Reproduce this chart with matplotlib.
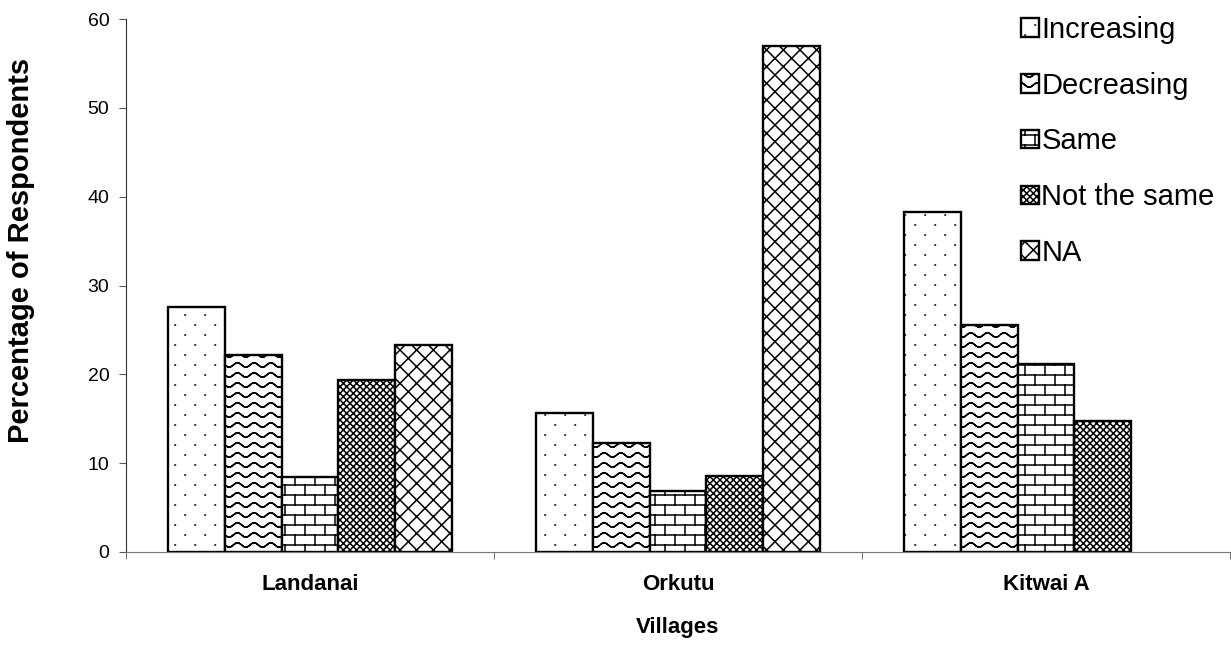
import numpy as np
import matplotlib
matplotlib.use("Agg")
import matplotlib.pyplot as plt
import matplotlib.hatch as mhatch
from matplotlib.path import Path

# values
villages = ["Landanai", "Orkutu", "Kitwai A"]
responses = ["Increasing", "Decreasing", "Same", "Not the same", "NA"]
increasing = [27.6, 15.6, 38.3]
decreasing = [22.2, 12.3, 25.6]
same = [8.4, 6.9, 21.2]
not_same = [19.4, 8.6, 14.8]
na = [23.3, 57.0, 0.0]


# --- a few extra hatch patterns (dots, waves, bricks), unit tile = 1 inch ---
class SegmentHatch(mhatch.HatchPatternBase):
    char = None

    def __init__(self, hatch, density):
        self.segs = self.segments() if self.char in hatch else []
        self.num_vertices = 2 * len(self.segs)

    def set_vertices_and_codes(self, vertices, codes):
        for i, (a, b) in enumerate(self.segs):
            vertices[2 * i] = a
            vertices[2 * i + 1] = b
        codes[0::2] = Path.MOVETO
        codes[1::2] = Path.LINETO


class DotHatch(SegmentHatch):
    char = 'd'

    def segments(self):
        segs = []
        for r in range(10):
            y = 0.05 + r * 0.1
            for c in range(5):
                x = 0.05 + c * 0.2 + (0.1 if r % 2 else 0.0)
                segs.append(((x, y), (x + 0.004, y)))
        return segs


class WaveHatch(SegmentHatch):
    char = 'w'

    def segments(self):
        xs = np.linspace(0, 1, 73)
        segs = []
        for r in range(10):
            ys = 0.05 + r * 0.1 + 0.022 * np.sin(2 * np.pi * 6 * xs)
            segs += [((xs[i], ys[i]), (xs[i + 1], ys[i + 1])) for i in range(72)]
        return segs


class BrickHatch(SegmentHatch):
    char = 'b'

    def segments(self):
        segs = []
        for r in range(10):
            y0 = 0.05 + r * 0.1
            y1 = y0 + 0.1
            segs.append(((0.0, y0), (1.0, y0)))
            for c in range(5):
                x = 0.05 + c * 0.2 + (0.1 if r % 2 else 0.0)
                if y1 > 1.0:
                    segs.append(((x, y0), (x, 1.0)))
                    segs.append(((x, 0.0), (x, y1 - 1.0)))
                else:
                    segs.append(((x, y0), (x, y1)))
        return segs


mhatch._hatch_types += [DotHatch, WaveHatch, BrickHatch]
mhatch._validate_hatch_pattern = lambda hatch: None

plt.rcParams['font.family'] = ['Liberation Sans', 'DejaVu Sans']
plt.rcParams['hatch.linewidth'] = 1.1
plt.rcParams['hatch.color'] = '#303030'

series = [increasing, decreasing, same, not_same, na]
hatches = ['d', 'w', 'b', 'xxxxx', 'xx']

fig = plt.figure(figsize=(12.31, 6.53), dpi=100)
ax = fig.add_axes([126 / 1231, 1 - 552 / 653, 1104 / 1231, 533 / 653])

x = np.arange(len(villages))
width = 0.154
for i, (vals, h, lab) in enumerate(zip(series, hatches, responses)):
    lw = [1.7 if v > 0 else 0.0 for v in vals]
    ax.bar(x + (i - 2) * width, vals, width, facecolor='white', edgecolor='black',
           linewidth=lw, hatch=h, label=lab)

ax.set_xlim(-0.5, 2.5)
ax.set_ylim(0, 60)
ax.set_yticks(range(0, 61, 10))
ax.set_xticks(x)
ax.set_xticklabels(villages, fontsize=16, fontweight='bold')
ax.set_xticks(np.arange(-0.5, 3.0, 1.0), minor=True)
ax.tick_params(axis='x', which='major', length=0, pad=16)
ax.tick_params(axis='x', which='minor', length=5, direction='out', color='#555555')
ax.tick_params(axis='y', length=5, direction='out', pad=7, labelsize=14, color='#555555')

ax.spines['top'].set_visible(False)
ax.spines['right'].set_visible(False)
ax.spines['left'].set_color('#333333')
ax.spines['bottom'].set_color('#777777')

fig.text(21 / 1231, 1 - 250 / 653, "Percentage of Respondents", rotation=90,
         ha='center', va='center', fontsize=21, fontweight='bold')
fig.text(678 / 1231, 1 - 628 / 653, "Villages", ha='center', va='center',
         fontsize=16, fontweight='bold')

leg = ax.legend(loc='upper left', bbox_to_anchor=(1021 / 1231, 1 - 16 / 653),
                bbox_transform=fig.transFigure, frameon=False, fontsize=21,
                handlelength=0.6, handleheight=0.6, handletextpad=0.1,
                labelspacing=0.95, borderpad=0, borderaxespad=0)

fig.savefig("out.png", dpi=100)
